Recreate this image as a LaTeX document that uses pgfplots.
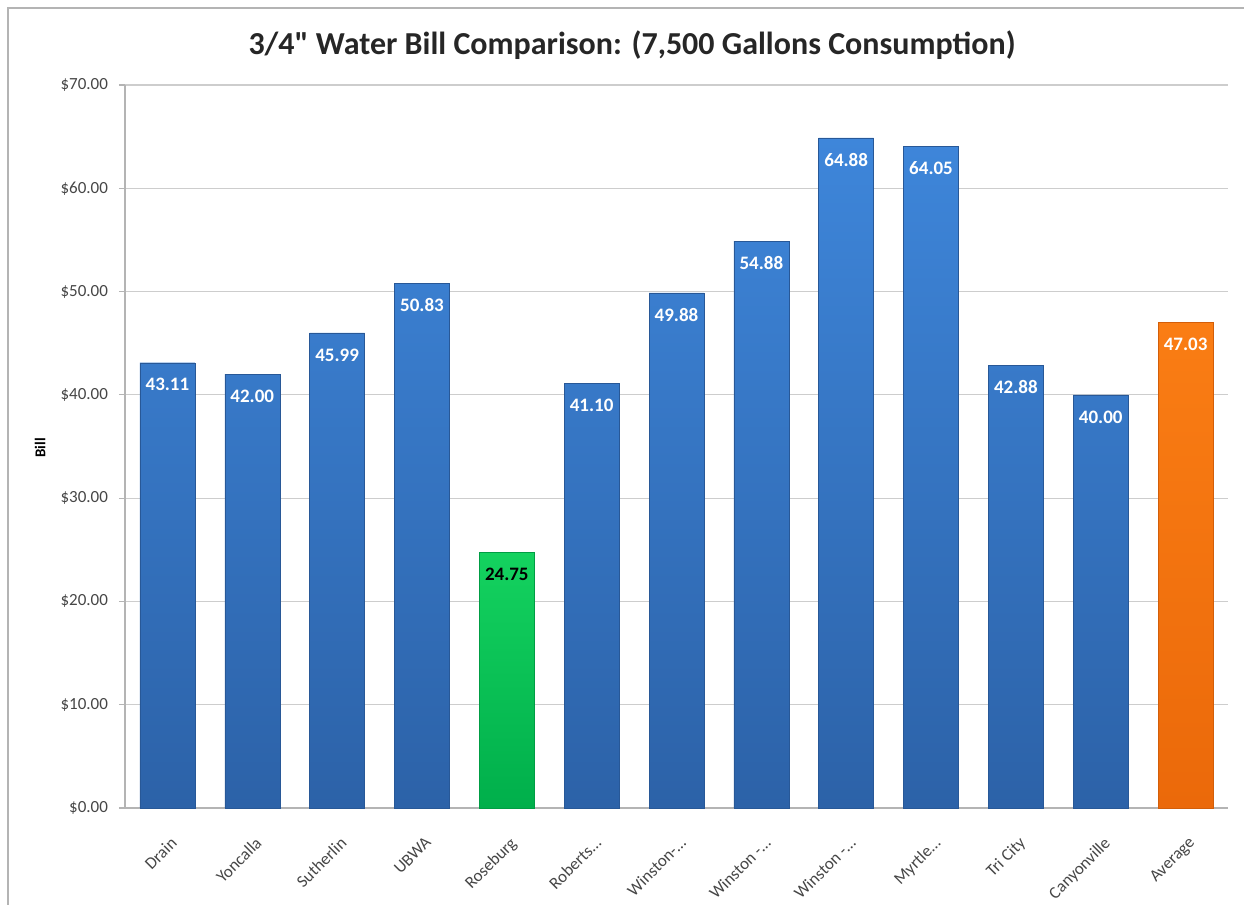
\documentclass[border=0pt]{standalone}
\usepackage{pgfplots}
\pgfplotsset{compat=1.18}
\usepackage{fontspec}
\setmainfont{Carlito}
\definecolor{gridc}{RGB}{205,205,205}
\definecolor{axisc}{RGB}{180,180,180}
\definecolor{blueT}{RGB}{62,134,218}
\definecolor{blueB}{RGB}{44,98,168}
\definecolor{greenT}{RGB}{20,210,95}
\definecolor{greenB}{RGB}{0,175,75}
\definecolor{orangeT}{RGB}{250,125,20}
\definecolor{orangeB}{RGB}{235,105,10}
\definecolor{tickc}{RGB}{70,70,70}
\pgfplotstableread{
x value label
0 43.11 43.11
1 42.00 42.00
2 45.99 45.99
3 50.83 50.83
5 41.10 41.10
6 49.88 49.88
7 54.88 54.88
8 64.88 64.88
9 64.05 64.05
10 42.88 42.88
11 40.00 40.00
}\bluedata
\pgfplotstableread{
x value label
4 24.75 24.75
}\greendata
\pgfplotstableread{
x value label
12 47.03 47.03
}\orangedata
\begin{document}
\begin{tikzpicture}[x=1pt,y=1pt]
\path[use as bounding box] (0,0) rectangle (622,452.5);
\draw[axisc, line width=0.9pt] (4,0) -- (4,448.5) -- (622,448.5);
\node[font=\bfseries\fontsize{16}{18}\selectfont, text=black!85] at (316,430) {3/4\textquotedbl{} Water Bill Comparison: (7,500 Gallons Consumption)};
\node[font=\bfseries\fontsize{7.5}{8}\selectfont, rotate=90] at (20,228.5) {Bill};
\begin{axis}[
  at={(62.5pt,48.5pt)}, anchor=south west,
  scale only axis, width=551.5pt, height=361.5pt,
  xmin=-0.5, xmax=12.5, ymin=0, ymax=70,
  axis x line*=bottom, axis y line*=left,
  axis line style={axisc, line width=0.6pt, -},
  ymajorgrids, grid style={gridc, line width=0.6pt},
  ytick={0,10,...,70},
  yticklabels={\$0.00,\$10.00,\$20.00,\$30.00,\$40.00,\$50.00,\$60.00,\$70.00},
  yticklabel style={font=\fontsize{8.5}{9}\selectfont, text=tickc, xshift=-2pt},
  ytick style={axisc, line width=0.6pt},
  tick align=outside, major tick length=3pt,
  xtick={0,...,12},
  xticklabels={Drain,Yoncalla,Sutherlin,UBWA,Roseburg,Roberts…,Winston-…,Winston -…,Winston -…,Myrtle…,Tri City,Canyonville,Average},
  xticklabel style={font=\fontsize{8.5}{9}\selectfont, text=tickc, rotate=45, anchor=north east, xshift=-3.5pt, yshift=-5pt},
  xtick style={draw=none},
  ybar, bar width=27.5pt, bar shift=0pt,
  point meta=explicit symbolic,
  nodes near coords,
  every node near coord/.append style={font=\bfseries\fontsize{9.5}{10}\selectfont, anchor=center, yshift=-11pt},
  clip=false,
]
\addplot[draw=blueB!90!black, line width=0.2pt, top color=blueT, bottom color=blueB, every node near coord/.append style={text=white}] table[x=x, y=value, meta=label] {\bluedata};
\addplot[draw=greenB!90!black, line width=0.2pt, top color=greenT, bottom color=greenB, every node near coord/.append style={text=black}] table[x=x, y=value, meta=label] {\greendata};
\addplot[draw=orangeB!90!black, line width=0.2pt, top color=orangeT, bottom color=orangeB, every node near coord/.append style={text=white}] table[x=x, y=value, meta=label] {\orangedata};
\end{axis}
\end{tikzpicture}
\end{document}
